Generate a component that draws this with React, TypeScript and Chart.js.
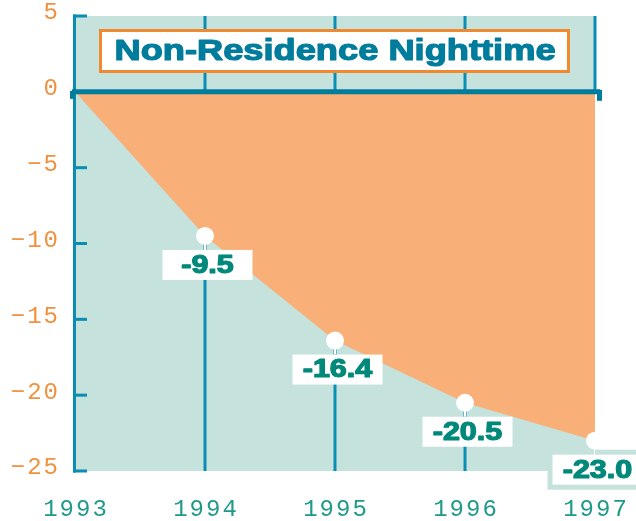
import React, { useEffect, useRef } from 'react';
import { Chart, registerables } from 'chart.js';

Chart.register(...registerables);

const years = ['1993', '1994', '1995', '1996', '1997'];
const changes = [0, -9.5, -16.4, -20.5, -23.0];
const yTicks = [5, 0, -5, -10, -15, -20, -25];
const chartTitle = 'Non-Residence Nighttime';

const ORANGE_FILL = '#f8b078';
const TEAL_BG = '#c5e2dd';
const AXIS_BLUE = '#0a8db3';
const ZERO_BLUE = '#007c9c';
const LABEL_GREEN = '#00897a';
const TICK_ORANGE = '#f0913e';
const TICK_TEAL = '#1f9a8a';
const TITLE_BORDER = '#f0892f';

const decorPlugin = {
  id: 'decor',
  beforeDatasetsDraw(chart: any) {
    const { ctx, chartArea } = chart;
    const xs = chart.scales.x;
    const ys = chart.scales.y;
    const { left, right, top, bottom } = chartArea;
    ctx.save();
    ctx.fillStyle = TEAL_BG;
    ctx.fillRect(left, top, right - left, bottom - top);
    ctx.strokeStyle = AXIS_BLUE;
    ctx.lineWidth = 3;
    const y0 = ys.getPixelForValue(0);
    years.forEach((_, i) => {
      if (i === 0) return;
      const x = xs.getPixelForValue(i);
      ctx.beginPath();
      ctx.moveTo(x, top);
      ctx.lineTo(x, i === years.length - 1 ? y0 : bottom);
      ctx.stroke();
    });
    ctx.restore();
  },
  afterDatasetsDraw(chart: any) {
    const { ctx, chartArea } = chart;
    const ys = chart.scales.y;
    const { left, right, top, bottom } = chartArea;
    ctx.save();
    ctx.strokeStyle = AXIS_BLUE;
    ctx.lineWidth = 3;
    ctx.beginPath();
    ctx.moveTo(left - 0.5, top - 1.5);
    ctx.lineTo(left - 0.5, bottom + 1.5);
    ctx.stroke();
    yTicks.forEach((v) => {
      const y = ys.getPixelForValue(v);
      ctx.beginPath();
      ctx.moveTo(left - 2, y);
      ctx.lineTo(left + 12, y);
      ctx.stroke();
    });
    const y0 = ys.getPixelForValue(0);
    ctx.strokeStyle = ZERO_BLUE;
    ctx.lineWidth = 5;
    ctx.beginPath();
    ctx.moveTo(left - 3, y0);
    ctx.lineTo(right + 5, y0);
    ctx.stroke();
    ctx.fillStyle = ZERO_BLUE;
    ctx.fillRect(left - 5, y0 - 1, 5, 8);
    ctx.fillRect(right + 2, y0 - 2, 5, 11);
    ctx.restore();
  },
  afterDraw(chart: any) {
    const { ctx, chartArea, width, height } = chart;
    const xs = chart.scales.x;
    const ys = chart.scales.y;
    ctx.save();
    changes.forEach((v, i) => {
      if (i === 0) return;
      const px = xs.getPixelForValue(i);
      const py = ys.getPixelForValue(v);
      const bx = px + 2.5 - 45;
      const by = py + 14;
      ctx.strokeStyle = '#ffffff';
      ctx.lineWidth = 2;
      ctx.beginPath();
      ctx.moveTo(px, py);
      ctx.lineTo(px, by);
      ctx.stroke();
      ctx.save();
      ctx.beginPath();
      ctx.rect(0, 0, width, height);
      ctx.rect(chartArea.left, chartArea.top, chartArea.right - chartArea.left, chartArea.bottom - chartArea.top);
      ctx.clip('evenodd');
      ctx.fillStyle = TEAL_BG;
      ctx.fillRect(bx - 5, by - 5, 100, 40);
      ctx.restore();
      ctx.fillStyle = '#ffffff';
      ctx.fillRect(bx, by, 90, 30);
      ctx.save();
      ctx.translate(bx + 45, by + 16);
      ctx.scale(1.22, 1);
      ctx.fillStyle = LABEL_GREEN;
      ctx.strokeStyle = LABEL_GREEN;
      ctx.lineWidth = 1.2;
      ctx.lineJoin = 'round';
      ctx.font = 'bold 25px "Liberation Sans", Arial, sans-serif';
      ctx.textAlign = 'center';
      ctx.textBaseline = 'middle';
      ctx.fillText(v.toFixed(1), 0, 0);
      ctx.strokeText(v.toFixed(1), 0, 0);
      ctx.restore();
    });
    ctx.fillStyle = '#ffffff';
    ctx.fillRect(99, 29, 471, 44);
    ctx.strokeStyle = TITLE_BORDER;
    ctx.lineWidth = 3;
    ctx.strokeRect(100.5, 30.5, 468, 41);
    ctx.save();
    ctx.translate(335, 52);
    ctx.scale(1.25, 1);
    ctx.fillStyle = ZERO_BLUE;
    ctx.strokeStyle = ZERO_BLUE;
    ctx.lineWidth = 1.2;
    ctx.lineJoin = 'round';
    ctx.font = 'bold 29px "Liberation Sans", Arial, sans-serif';
    ctx.textAlign = 'center';
    ctx.textBaseline = 'middle';
    ctx.fillText(chartTitle, 0, 0);
    ctx.strokeText(chartTitle, 0, 0);
    ctx.restore();
    ctx.font = '24px "Liberation Mono", monospace';
    (ctx as any).letterSpacing = '2px';
    ctx.textBaseline = 'middle';
    ctx.fillStyle = TICK_ORANGE;
    ctx.textAlign = 'right';
    yTicks.forEach((v) => {
      const y = ys.getPixelForValue(v) - 3;
      ctx.fillText(String(v).replace('-', '\u2212'), 60, y);
    });
    ctx.fillStyle = TICK_TEAL;
    ctx.textAlign = 'center';
    years.forEach((yr, i) => {
      const x = xs.getPixelForValue(i);
      ctx.fillText(yr, x + 1, 510);
    });
    ctx.restore();
  },
};

export default function App() {
  const ref = useRef<HTMLCanvasElement | null>(null);
  useEffect(() => {
    if (!ref.current) return;
    const chart = new Chart(ref.current, {
      type: 'line',
      data: {
        labels: years,
        datasets: [
          {
            data: changes,
            fill: 'origin',
            backgroundColor: ORANGE_FILL,
            borderWidth: 0,
            borderColor: ORANGE_FILL,
            tension: 0,
            pointRadius: changes.map((_, i) => (i === 0 ? 0 : 9)),
            pointBackgroundColor: '#ffffff',
            pointBorderWidth: 0,
            clip: false as any,
          },
        ],
      },
      options: {
        responsive: false,
        animation: false,
        devicePixelRatio: 1,
        layout: { padding: { left: 75, right: 41, top: 16, bottom: 50 } },
        plugins: { legend: { display: false }, tooltip: { enabled: false }, title: { display: false } },
        scales: {
          x: { type: 'category', display: false, offset: false },
          y: { type: 'linear', display: false, min: -25, max: 5 },
        },
      },
      plugins: [decorPlugin],
    });
    return () => chart.destroy();
  }, []);
  return (
    <div style={{ position: 'fixed', left: 0, top: 0, width: 636, height: 521, background: '#fff' }}>
      <canvas ref={ref} width={636} height={521} style={{ width: 636, height: 521, display: 'block' }} />
    </div>
  );
}
